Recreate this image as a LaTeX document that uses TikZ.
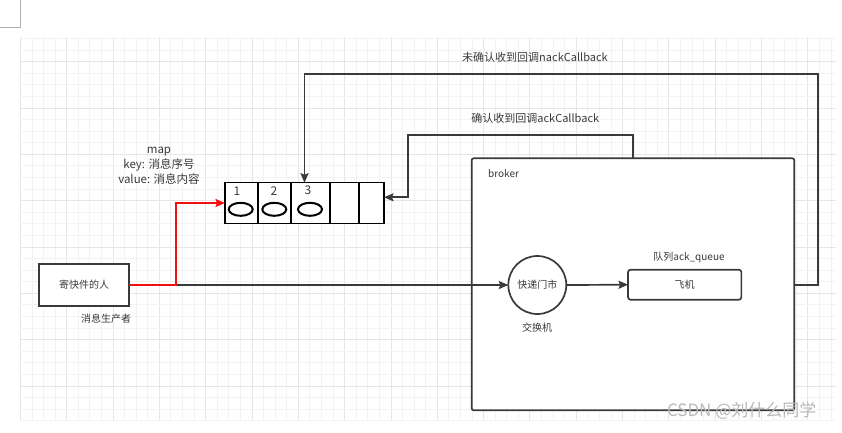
\documentclass[tikz,border=0pt]{standalone}
\usepackage{fontspec}
\setmainfont{Noto Sans CJK SC}
\usetikzlibrary{arrows.meta,calc,shapes.geometric}
\definecolor{ln}{HTML}{3A3A3A}
\definecolor{tx}{HTML}{3A3A3A}
\definecolor{gmin}{HTML}{F3F3F3}
\definecolor{gmaj}{HTML}{E6E6E6}
\definecolor{rd}{HTML}{F01010}
\tikzset{
  conn/.style={draw=ln, line width=1.7pt, -{Stealth[length=9.5pt,width=8pt,inset=1.5pt]}},
  redconn/.style={draw=rd, line width=1.7pt, -{Stealth[length=9.5pt,width=8pt,inset=1.5pt]}},
  boxshape/.style={draw=ln, line width=1.7pt, inner sep=0pt, outer sep=0pt, text=tx, font=\fontsize{10}{12}\selectfont},
  lbl/.style={text=tx, inner sep=0pt, font=\fontsize{10}{12}\selectfont},
  biglbl/.style={text=tx, inner sep=0pt, font=\fontsize{11}{13}\selectfont},
  oval/.style={ellipse, draw=black, line width=2pt, minimum width=24pt, minimum height=13pt, inner sep=0pt}
}
\begin{document}
\begin{tikzpicture}[x=1pt,y=-1pt]
\useasboundingbox (0,0) rectangle (842,432);
\fill[white] (0,0) rectangle (842,432);
% corner mark
\draw[gray!60, line width=0.8pt] (20,0) -- (20,27) -- (0,27);
% grid
\begin{scope}
\clip (20,37) rectangle (836,421);
\foreach \k in {0,...,71} {
  \pgfmathsetmacro\xx{20.4+\k*11.58}
  \pgfmathtruncatemacro\m{mod(\k,4)}
  \ifnum\m=0 \draw[gmaj, line width=0.9pt] (\xx,37) -- (\xx,421);
  \else \draw[gmin, line width=0.9pt] (\xx,37) -- (\xx,421); \fi
}
\foreach \k in {2,...,35} {
  \pgfmathsetmacro\yy{15.4+\k*11.58}
  \pgfmathtruncatemacro\m{mod(\k,4)}
  \ifnum\m=0 \draw[gmaj, line width=0.9pt] (20,\yy) -- (836,\yy);
  \else \draw[gmin, line width=0.9pt] (20,\yy) -- (836,\yy); \fi
}
\end{scope}

% broker
\node[boxshape, rounded corners=2pt, minimum width=322.6pt, minimum height=252pt, fill=white] (broker) at (633,284.3) {};
\node[lbl, anchor=west] (brokerlbl) at (488,174) {broker};

% producer
\node[boxshape, fill=white, minimum width=89.4pt, minimum height=42.6pt] (prod) at (84,285) {寄快件的人};
\node[lbl] (prodlbl) at (106,319) {消息生产者};

% exchange
\node[boxshape, circle, fill=white, minimum size=58pt] (xc) at (537.3,285) {快递门市};
\node[lbl] (xclbl) at (537,328) {交换机};

% queue
\node[boxshape, rounded corners=2.5pt, fill=white, minimum width=113.3pt, minimum height=30pt] (q) at (684.7,284.7) {飞机};
\node[lbl] (qlbl) at (689,257) {队列ack\_queue};

% map
\node[draw=black, line width=1.5pt, fill=white, inner sep=0pt, outer sep=0pt, minimum width=159pt, minimum height=40.6pt] (map) at (304.5,203) {};
\foreach \x in {257.7,291,330,359} {
  \draw[black, line width=2pt] (\x,182.7) -- (\x,223.3);
}
\node[oval] (e1) at (240.7,209.3) {};
\node[oval] (e2) at (274.3,209.3) {};
\node[oval] (e3) at (310,209.3) {};
\node[text=tx, inner sep=0pt, font=\fontsize{12}{14}\selectfont] (n1) at (237,191) {1};
\node[text=tx, inner sep=0pt, font=\fontsize{12}{14}\selectfont] (n2) at (274,191) {2};
\node[text=tx, inner sep=0pt, font=\fontsize{12}{14}\selectfont] (n3) at (308,190) {3};
\node[text=tx, inner sep=0pt, align=center, font=\fontsize{11.5}{15}\selectfont] (maplbl) at (159,166) {map\\key: 消息序号\\value: 消息内容};

% connectors
\coordinate (j) at (176,285);
\draw[conn] (prod.east) -- (xc.west);
\draw[conn] (xc.east) -- (q.west);
\draw[redconn] (prod.east) -- (j) |- (map.west);

\coordinate (nackA) at (817.7,285);
\coordinate (nackB) at (817.7,74.3);
\draw[conn] (broker.east |- nackA) -- (nackA) -- (nackB) -| (map.north);
\node[biglbl] (nacklbl) at (535,57) {未确认收到回调nackCallback};

\coordinate (ackA) at (632.7,134.7);
\coordinate (ackB) at (408.3,134.7);
\coordinate (ackC) at (408.3,197.3);
\draw[conn] (broker.north -| ackA) -- (ackA) -- (ackB) -- (ackC) -- ([yshift=5.7pt]map.east);
\node[biglbl] (acklbl) at (535.3,118) {确认收到回调ackCallback};

% watermark
\node[text=gray!55, inner sep=0pt, font=\fontsize{17}{19}\selectfont] (wm) at (741.7,411) {CSDN @刘什么同学};
\end{tikzpicture}
\end{document}
